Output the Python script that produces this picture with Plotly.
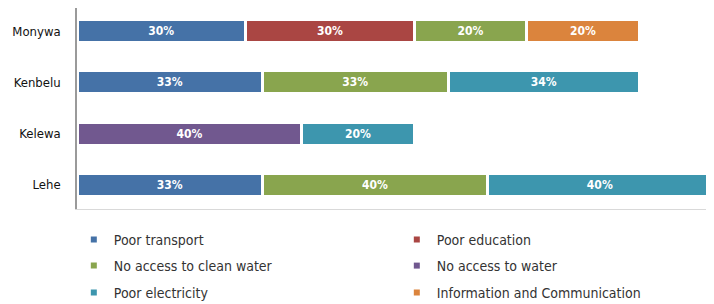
import plotly.graph_objects as go

villages = ["Monywa", "Kenbelu", "Kelewa", "Lehe"]
series_names = ["Poor transport", "Poor education", "No access to clean water",
                "No access to water", "Poor electricity", "Information and Communication"]
poor_transport = [30, 33, None, 33]
poor_education = [30, None, None, None]
no_clean_water = [20, 33, None, 40]
no_water = [None, None, 40, None]
poor_electricity = [None, 34, 20, 40]
info_comm = [20, None, None, None]

colors = ["#4572A7", "#AA4643", "#89A54E", "#71588F", "#3D96AE", "#DB843D"]
values = [poor_transport, poor_education, no_clean_water, no_water, poor_electricity, info_comm]
legend_ids = ["legend", "legend", "legend2", "legend2", "legend3", "legend3"]

FONT = "DejaVu Sans Condensed, sans-serif"

fig = go.Figure()
for name, vals, col in zip(series_names, values, colors):
    fig.add_trace(go.Bar(
        y=villages, x=vals, orientation="h", name=name,
        marker=dict(color=col, line=dict(color="white", width=3)),
        texttemplate="<b>%{x}%</b>", textposition="inside", insidetextanchor="middle",
        textfont=dict(color="white", size=12, family=FONT),
        showlegend=False, width=0.45, hoverinfo="skip",
    ))
for name, col, lg in zip(series_names, colors, legend_ids):
    fig.add_trace(go.Scatter(
        x=[None], y=[None], mode="markers", name=name, legend=lg,
        marker=dict(symbol="square", size=6, color=col), showlegend=True,
    ))

PLOT_H = 201
leg_common = dict(orientation="h", xanchor="left", yanchor="middle", x=-0.005,
                  entrywidth=278, entrywidthmode="pixels", traceorder="normal",
                  font=dict(size=14, color="#333333", family=FONT),
                  bgcolor="rgba(0,0,0,0)", borderwidth=0, itemwidth=30)

fig.update_layout(
    width=706, height=296,
    margin=dict(l=69, r=0, t=0, b=95, autoexpand=False),
    paper_bgcolor="white", plot_bgcolor="white",
    barmode="stack",
    font=dict(family=FONT),
    xaxis=dict(range=[0, 113.3], showgrid=False, showticklabels=False, zeroline=False,
               showline=True, linecolor="#d9d9d9", linewidth=1, ticks=""),
    yaxis=dict(categoryorder="array", categoryarray=villages, range=[3.47, -0.45],
               showgrid=False, zeroline=False, showline=True, linecolor="#9a9a9a",
               linewidth=1.5, ticks="", ticklabelstandoff=12, automargin=False,
               tickfont=dict(size=13, color="#111111", family=FONT)),
    legend=dict(leg_common, y=(201 - 232) / PLOT_H),
    legend2=dict(leg_common, y=(201 - 258) / PLOT_H),
    legend3=dict(leg_common, y=(201 - 285) / PLOT_H),
)

fig.write_html("out.html")
